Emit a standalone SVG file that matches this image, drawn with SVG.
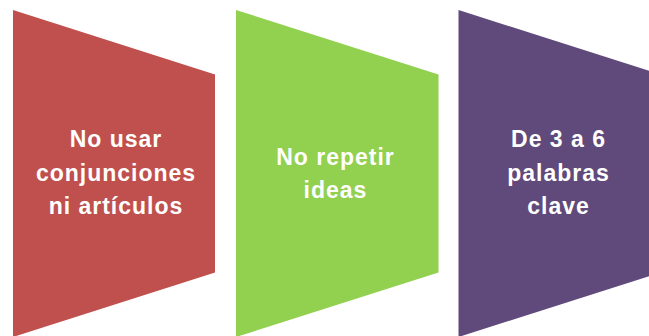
<svg xmlns="http://www.w3.org/2000/svg" width="649" height="336" viewBox="0 0 649 336">
<style>
.t{font-family:"Liberation Sans",Arial,sans-serif;font-weight:bold;font-size:23px;letter-spacing:1px;fill:#fff;text-anchor:middle}
</style>
<rect width="649" height="336" fill="#fff"/>
<g id="n1">
<polygon points="13,10 215,74.5 215,272.5 13,337" fill="#C0504D"/>
<text class="t" x="116" y="147">No usar</text>
<text class="t" x="116" y="180.5">conjunciones</text>
<text class="t" x="116" y="214">ni artículos</text>
</g>
<g id="n2">
<polygon points="236,10 438.5,74.5 438.5,272.5 236,337" fill="#92D050"/>
<text class="t" x="335.5" y="165">No repetir</text>
<text class="t" x="335.5" y="197.5">ideas</text>
</g>
<g id="n3">
<polygon points="458.5,10 661,74.5 661,272.5 458.5,337" fill="#604A7B"/>
<text class="t" x="558.5" y="147">De 3 a 6</text>
<text class="t" x="558.5" y="180.5">palabras</text>
<text class="t" x="558.5" y="214">clave</text>
</g>
<g id="connectors"></g>
</svg>
